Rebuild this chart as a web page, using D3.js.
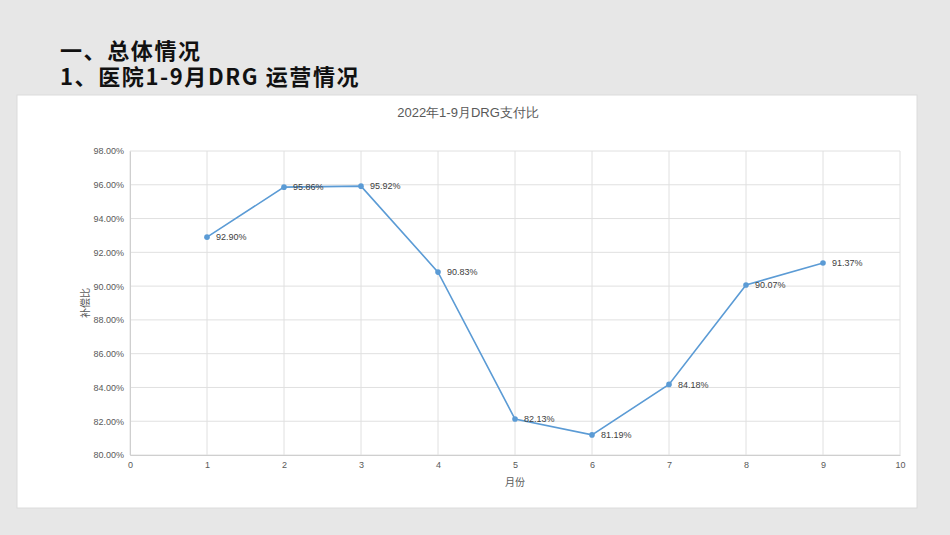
<!DOCTYPE html>
<html>
<head>
<meta charset="utf-8">
<script src="https://cdn.jsdelivr.net/npm/d3@7"></script>
<style>
  body { margin: 0; background: #e7e7e7; }
  svg { display: block; }
</style>
</head>
<body>
<svg id="chart"></svg>
<script>
const months = [1, 2, 3, 4, 5, 6, 7, 8, 9];
const ratios = [92.90, 95.86, 95.92, 90.83, 82.13, 81.19, 84.18, 90.07, 91.37];
const yTicks = [80, 82, 84, 86, 88, 90, 92, 94, 96, 98];
const xTicks = [0, 1, 2, 3, 4, 5, 6, 7, 8, 9, 10];
const headings = ['一、总体情况', '1、医院1-9月DRG 运营情况'];
const chartTitle = '2022年1-9月DRG支付比';

const W = 950, H = 535;
const svg = d3.select('#chart').attr('width', W).attr('height', H);

svg.append('rect').attr('width', W).attr('height', H).attr('fill', '#e7e7e7');

// headings
svg.selectAll('text.head')
  .data(headings)
  .join('text')
  .attr('class', 'head')
  .attr('x', 60)
  .attr('y', (d, i) => 59 + i * 26)
  .attr('font-family', '"Noto Sans CJK SC", sans-serif')
  .attr('font-weight', 'bold')
  .attr('font-size', 22)
  .attr('letter-spacing', 1.6)
  .attr('fill', '#111')
  .text((d) => d);

// white panel
svg.append('rect')
  .attr('x', 17).attr('y', 95)
  .attr('width', 900).attr('height', 413)
  .attr('fill', '#fff')
  .attr('stroke', '#dcdcdc');

const margin = { top: 151, left: 130 };
const width = 770, height = 304;
const g = svg.append('g').attr('transform', `translate(${margin.left},${margin.top})`);

const x = d3.scaleLinear().domain([0, 10]).range([0, width]);
const y = d3.scaleLinear().domain([80, 98]).range([height, 0]);

const font = '"Liberation Sans", Arial, sans-serif';

// gridlines
g.append('g').selectAll('line')
  .data(yTicks)
  .join('line')
  .attr('x1', 0).attr('x2', width)
  .attr('y1', (d) => y(d)).attr('y2', (d) => y(d))
  .attr('stroke', '#e0e0e0');

g.append('g').selectAll('line')
  .data(xTicks)
  .join('line')
  .attr('x1', (d) => x(d)).attr('x2', (d) => x(d))
  .attr('y1', 0).attr('y2', height)
  .attr('stroke', '#e0e0e0');

// axes
const yAxis = g.append('g')
  .call(d3.axisLeft(y).tickValues(yTicks).tickSize(0).tickPadding(6)
    .tickFormat((d) => d.toFixed(2) + '%'));
const xAxis = g.append('g')
  .attr('transform', `translate(0,${height})`)
  .call(d3.axisBottom(x).tickValues(xTicks).tickSize(0).tickPadding(7));

[yAxis, xAxis].forEach((a) => {
  a.select('.domain').attr('stroke', '#cfcfcf');
  a.selectAll('text')
    .attr('font-family', font)
    .attr('font-size', 9)
    .attr('fill', '#595959');
});

// line
const line = d3.line()
  .x((d, i) => x(months[i]))
  .y((d) => y(d));

g.append('path')
  .datum(ratios)
  .attr('d', line)
  .attr('fill', 'none')
  .attr('stroke', '#5b9bd5')
  .attr('stroke-width', 1.6);

g.append('g').selectAll('circle')
  .data(ratios)
  .join('circle')
  .attr('cx', (d, i) => x(months[i]))
  .attr('cy', (d) => y(d))
  .attr('r', 2.8)
  .attr('fill', '#5b9bd5');

g.append('g').selectAll('text')
  .data(ratios)
  .join('text')
  .attr('x', (d, i) => x(months[i]) + 9)
  .attr('y', (d) => y(d))
  .attr('dy', '0.35em')
  .attr('font-family', font)
  .attr('font-size', 9)
  .attr('fill', '#404040')
  .text((d) => d.toFixed(2) + '%');

// titles
svg.append('text')
  .attr('x', 468).attr('y', 117)
  .attr('text-anchor', 'middle')
  .attr('font-family', font)
  .attr('font-size', 13)
  .attr('fill', '#595959')
  .text(chartTitle);

svg.append('text')
  .attr('x', margin.left + width / 2).attr('y', 486)
  .attr('text-anchor', 'middle')
  .attr('font-family', '"Noto Sans CJK SC", sans-serif')
  .attr('font-size', 10)
  .attr('fill', '#595959')
  .text('月份');

svg.append('text')
  .attr('transform', `translate(89,${margin.top + height / 2}) rotate(-90)`)
  .attr('text-anchor', 'middle')
  .attr('font-family', '"Noto Sans CJK SC", sans-serif')
  .attr('font-size', 10)
  .attr('fill', '#595959')
  .text('补偿比');
</script>
</body>
</html>
